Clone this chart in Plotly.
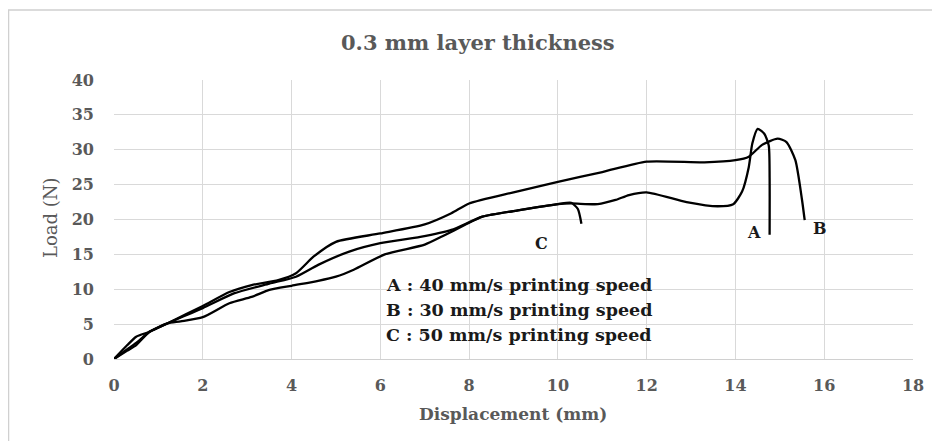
import plotly.graph_objects as go

# Curve A : 40 mm/s
a_x = [0, 0.3, 0.5, 0.8, 1.2, 1.5, 2.0, 2.6, 3.1, 3.5, 4.0, 4.6, 5.0, 5.4, 6.1, 7.0, 7.4, 7.9, 8.3, 9.1, 10.0, 10.3,
       10.9, 11.3, 11.6, 12.0, 12.9, 13.6, 13.95, 14.15, 14.3, 14.38, 14.5, 14.65, 14.75, 14.77, 14.77]
a_y = [0, 1.4, 2.3, 3.9, 5.1, 5.4, 6.0, 8.0, 8.9, 9.9, 10.5, 11.2, 11.8, 12.8, 15.0, 16.4, 17.6, 19.2, 20.4, 21.3, 22.2, 22.3,
       22.2, 22.8, 23.5, 23.9, 22.5, 21.9, 22.2, 24.0, 27.5, 30.9, 33.0, 32.3, 30.6, 26.0, 17.8]
# Curve B : 30 mm/s
b_x = [0, 0.3, 0.5, 0.8, 1.2, 2.0, 2.6, 3.1, 3.7, 4.1, 4.5, 5.0, 6.0, 7.0, 7.6, 8.0, 9.0, 10.0, 11.0, 12.0, 13.3, 14.0,
       14.3, 14.6, 14.95, 15.15, 15.35, 15.5, 15.56]
b_y = [0, 2.0, 3.2, 3.9, 5.1, 7.6, 9.6, 10.6, 11.3, 12.3, 14.7, 16.8, 18.0, 19.3, 20.9, 22.3, 23.9, 25.4, 26.8, 28.3, 28.2, 28.5,
       29.0, 30.7, 31.6, 31.1, 28.5, 22.8, 19.9]
# Curve C : 50 mm/s
c_x = [0, 0.3, 0.5, 0.8, 1.2, 2.0, 2.7, 3.5, 4.1, 4.6, 5.3, 6.0, 6.9, 7.6, 8.3, 9.1, 10.0, 10.3, 10.45, 10.53]
c_y = [0, 1.2, 2.0, 3.9, 5.1, 7.3, 9.4, 10.8, 11.8, 13.5, 15.4, 16.6, 17.5, 18.5, 20.4, 21.3, 22.2, 22.4, 21.5, 19.4]

series_names = ["A", "B", "C"]
legend_lines = ["A : 40 mm/s printing speed", "B : 30 mm/s printing speed", "C : 50 mm/s printing speed"]
x_ticks = [0, 2, 4, 6, 8, 10, 12, 14, 16, 18]
y_ticks = [0, 5, 10, 15, 20, 25, 30, 35, 40]

# page has an 8px body margin; figure fills the rest of the 940x441 window
OFF = 8
W, H = 940 - OFF, 441 - OFF
L, T = 114 - OFF, 80 - OFF
pw, ph = 799, 279
R, B = W - L - pw, H - T - ph

def px_x(p):  # screen pixel -> paper x
    return (p - OFF - L) / pw

def px_y(p):  # screen pixel -> paper y
    return (T + ph - (p - OFF)) / ph

fig = go.Figure()
for name, xs, ys in zip(series_names, [a_x, b_x, c_x], [a_y, b_y, c_y]):
    fig.add_trace(go.Scatter(x=xs, y=ys, mode="lines", name=name,
                             line=dict(color="black", width=2.3, shape="spline", smoothing=0.6),
                             showlegend=False))

GREY = "#595959"
tick_font = dict(family="DejaVu Serif", size=16, color=GREY)
fig.update_layout(
    width=W, height=H,
    margin=dict(l=L, r=R, t=T, b=B, autoexpand=False),
    paper_bgcolor="white", plot_bgcolor="white",
    xaxis=dict(range=[0, 18], tickvals=x_ticks, ticktext=[f"<b>{v}</b>" for v in x_ticks],
               showgrid=True, gridcolor="#d9d9d9", gridwidth=1, zeroline=False,
               showline=True, linecolor="#d0d0d0", linewidth=1, ticks="", ticklabelstandoff=12,
               tickfont=tick_font, fixedrange=True),
    yaxis=dict(range=[0, 40], tickvals=y_ticks, ticktext=[f"<b>{v}</b>" for v in y_ticks],
               showgrid=True, gridcolor="#d9d9d9", gridwidth=1, zeroline=False,
               showline=False, ticks="", ticklabelstandoff=19,
               tickfont=tick_font, fixedrange=True),
)

# outer chart frame
fig.add_shape(type="rect", xref="paper", yref="paper",
              x0=px_x(8.5), x1=px_x(960), y0=px_y(460), y1=px_y(10),
              line=dict(color="#d0d0d0", width=1.5), fillcolor="rgba(0,0,0,0)", layer="below")

def note(text, sx, sy, size, color=GREY, xanchor="center", angle=0):
    fig.add_annotation(text=text, xref="paper", yref="paper", x=px_x(sx), y=px_y(sy),
                       xanchor=xanchor, yanchor="middle", showarrow=False, textangle=angle,
                       font=dict(family="DejaVu Serif", size=size, color=color))

note("<b>0.3 mm layer thickness</b>", 478, 43, 21)
note("<b>Displacement (mm)</b>", 513, 414, 17)
note("Load (N)", 50, 218, 18, angle=-90)

for i, line in enumerate(legend_lines):
    note(f"<b>{line}</b>", 384, 285 + 25 * i, 17.5, color="#1a1a1a", xanchor="left")

# curve labels (data coordinates)
label_pos = {"A": (14.42, 18.1), "B": (15.9, 18.7), "C": (9.62, 16.5)}
for name in series_names:
    lx, ly = label_pos[name]
    fig.add_annotation(text=f"<b>{name}</b>", x=lx, y=ly, showarrow=False,
                       xanchor="center", yanchor="middle",
                       font=dict(family="DejaVu Serif", size=16, color="#1a1a1a"))

fig.write_html("out.html")
